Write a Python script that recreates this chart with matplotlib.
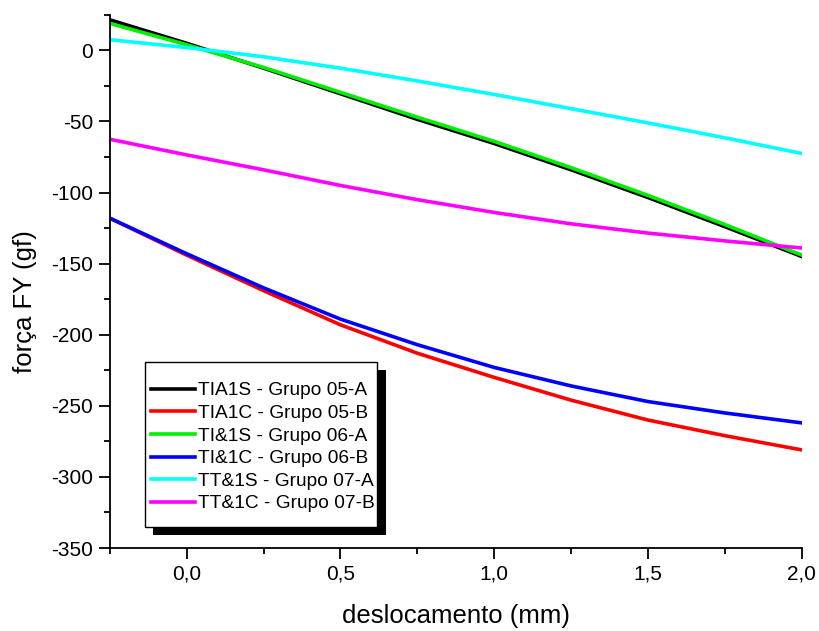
import matplotlib
matplotlib.use("Agg")
import matplotlib.pyplot as plt
import matplotlib.patheffects as pe
from matplotlib.patches import Rectangle
from matplotlib.ticker import MultipleLocator, FuncFormatter

plt.rcParams["font.family"] = ["Liberation Sans", "DejaVu Sans"]

# displacement (mm)
X = [-0.25, 0.0, 0.25, 0.5, 0.75, 1.0, 1.25, 1.5, 1.75, 2.0]

# force FY (gf)
TIA1S = [21.5, 5, -12.5, -30.5, -48.5, -65.5, -84, -103.5, -124, -145]
TIA1C = [-118, -144, -169, -193, -213, -230, -246, -260, -271, -281]
TI1S = [19, 4, -12, -29.5, -47, -64, -82.5, -102, -122.5, -144]
TI1C = [-118, -143, -167, -189, -207, -223, -236, -247, -255, -262]
TT1S = [7.5, 2, -4.5, -12.5, -21.5, -31, -41, -51, -61.5, -72.5]
TT1C = [-62.5, -73.5, -84, -95, -105, -114, -122, -128.5, -134, -139]

SERIES = [
    ("TIA1S - Grupo 05-A", TIA1S, "#000000"),
    ("TIA1C - Grupo 05-B", TIA1C, "#ff0000"),
    ("TI&1S - Grupo 06-A", TI1S, "#00ee00"),
    ("TI&1C - Grupo 06-B", TI1C, "#0000ff"),
    ("TT&1S - Grupo 07-A", TT1S, "#00ffff"),
    ("TT&1C - Grupo 07-B", TT1C, "#ff00ff"),
]

fig = plt.figure(figsize=(8.19, 6.31), dpi=100)
ax = fig.add_axes([0.134, 0.1315, 0.845, 0.845])

for label, ys, color in SERIES:
    ax.plot(X, ys, color=color, linewidth=2.6, label=label)

ax.set_xlim(-0.25, 2.0)
ax.set_ylim(-350, 25)

ax.spines["top"].set_visible(False)
ax.spines["right"].set_visible(False)
for s in ("left", "bottom"):
    ax.spines[s].set_linewidth(1.3)

ax.xaxis.set_major_locator(MultipleLocator(0.5))
ax.xaxis.set_minor_locator(MultipleLocator(0.25))
ax.yaxis.set_major_locator(MultipleLocator(50))
ax.yaxis.set_minor_locator(MultipleLocator(25))
ax.xaxis.set_major_formatter(FuncFormatter(lambda v, p: f"{v:.1f}".replace(".", ",")))
ax.yaxis.set_major_formatter(FuncFormatter(lambda v, p: f"{int(round(v))}"))
ax.tick_params(which="major", direction="out", length=8, width=1.3, labelsize=15, pad=4)
ax.tick_params(which="minor", direction="out", length=4.5, width=1.3)

ax.set_xlabel("deslocamento (mm)", fontsize=18.5)
ax.set_ylabel("força FY (gf)", fontsize=18.5)
ax.xaxis.set_label_coords(0.5, -0.105)
ax.yaxis.set_label_coords(-0.105, 0.463)

# legend box with a hard black drop shadow, like Origin draws it
frame = Rectangle((0.0506, 0.0394), 0.336, 0.31, transform=ax.transAxes,
                  facecolor="white", edgecolor="black", linewidth=1.0, zorder=5)
frame.set_path_effects([
    pe.SimplePatchShadow(offset=(6, -6), shadow_rgbFace="black", alpha=1),
    pe.Normal(),
])
ax.add_patch(frame)

leg = ax.legend(loc="center", bbox_to_anchor=(0.221, 0.189), borderaxespad=0,
                fontsize=13.8, frameon=False, handlelength=2.3, handletextpad=0.15,
                labelspacing=0.27, borderpad=0.0)
leg.set_zorder(6)

fig.savefig("out.png", dpi=100, facecolor="white")
